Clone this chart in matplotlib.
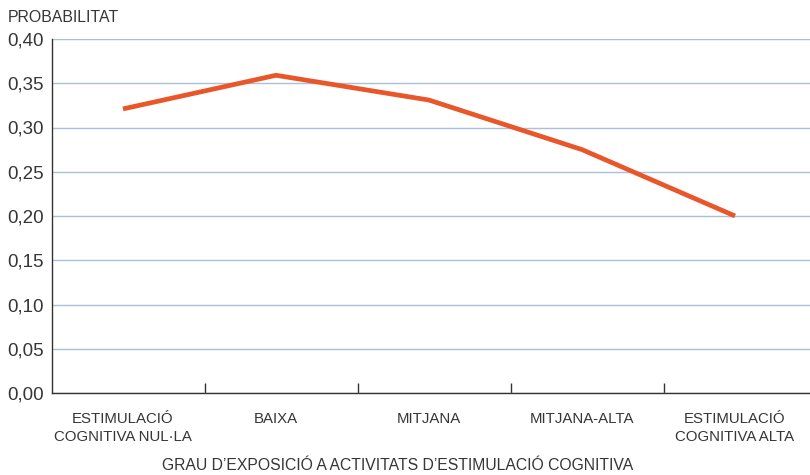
import matplotlib
matplotlib.use("Agg")
import matplotlib.pyplot as plt
import numpy as np

categories = ["ESTIMULACIÓ\nCOGNITIVA NUL·LA", "BAIXA", "MITJANA", "MITJANA-ALTA", "ESTIMULACIÓ\nCOGNITIVA ALTA"]
probabilities = [0.321, 0.359, 0.331, 0.275, 0.200]
yticks = [0.0, 0.05, 0.10, 0.15, 0.20, 0.25, 0.30, 0.35, 0.40]
ytick_labels = ["0,00", "0,05", "0,10", "0,15", "0,20", "0,25", "0,30", "0,35", "0,40"]

plt.rcParams['font.family'] = ['Liberation Sans', 'DejaVu Sans']
txt = '#363636'
fig = plt.figure(figsize=(8.1, 4.75), dpi=100)
ax = fig.add_axes([52/810, 1-393/475, 1-52/810, (393-39)/475])

x = np.arange(len(categories))
ax.plot(x, probabilities, color='#e8562a', lw=3.4, solid_capstyle='butt', solid_joinstyle='round', zorder=3)

ax.set_ylim(0, 0.40)
ax.set_xlim(-0.464, 4.49)
ax.set_yticks(yticks)
ax.set_yticklabels(ytick_labels, fontsize=13.5, color=txt)
ax.tick_params(axis='y', length=0, pad=6)
ax.grid(axis='y', color='#a9c0d6', lw=1.0)
ax.set_axisbelow(True)

ax.set_xticks(x[:-1] + 0.535)
ax.set_xticklabels([])
ax.tick_params(axis='x', direction='in', length=7, color='#333333', width=1)
for i, c in enumerate(categories):
    ax.text(x[i], -0.021, c, ha='center', va='top', fontsize=10.8, color=txt,
            transform=ax.transData, linespacing=1.4)

for s in ['top', 'right']:
    ax.spines[s].set_visible(False)
ax.spines['left'].set_color('#333333')
ax.spines['bottom'].set_color('#333333')
ax.spines['left'].set_linewidth(1)
ax.spines['bottom'].set_linewidth(1)

fig.text(8/810, 1-18/475, "PROBABILITAT", fontsize=11.4, color=txt, va='center', ha='left')
fig.text(398/810, 1-465/475, "GRAU D’EXPOSICIÓ A ACTIVITATS D’ESTIMULACIÓ COGNITIVA", fontsize=11.3, color=txt, va='center', ha='center')

fig.savefig("out.png", dpi=100)
